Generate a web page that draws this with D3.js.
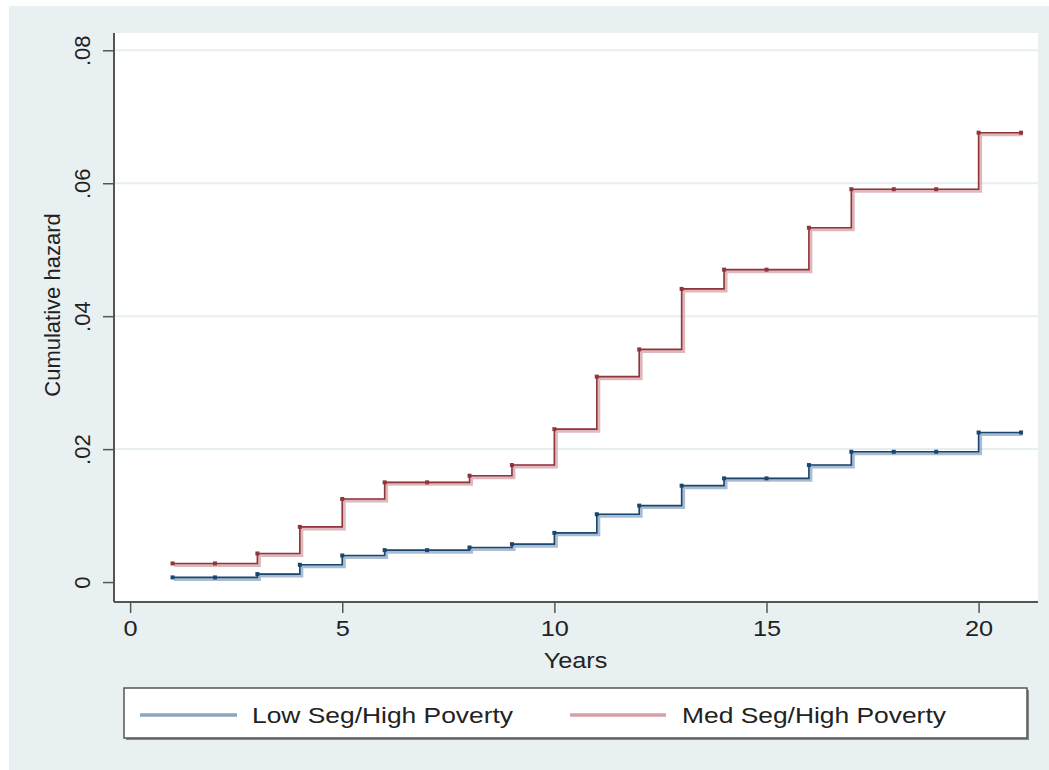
<!DOCTYPE html>
<html>
<head>
<meta charset="utf-8">
<script src="https://cdn.jsdelivr.net/npm/d3@7"></script>
<style>
  body { margin: 0; background: #fff; }
  svg { display: block; font-family: "Liberation Sans", Arial, sans-serif; }
</style>
</head>
<body>
<svg id="chart" width="1049" height="770"></svg>
<script>
// years at which the hazard steps
var years = [1, 2, 3, 4, 5, 6, 7, 8, 9, 10, 11, 12, 13, 14, 15, 16, 17, 18, 19, 20, 21];
// Low Seg/High Poverty cumulative hazard
var lowSeg = [0.0007, 0.0007, 0.0012, 0.0026, 0.0040, 0.0048, 0.0048, 0.0052, 0.0057, 0.0074, 0.0102,
              0.0115, 0.0145, 0.0156, 0.0156, 0.0176, 0.0196, 0.0196, 0.0196, 0.0225, 0.0225];
// Med Seg/High Poverty cumulative hazard
var medSeg = [0.0028, 0.0028, 0.0043, 0.0083, 0.0125, 0.0150, 0.0150, 0.0160, 0.0176, 0.0230, 0.0309,
              0.0350, 0.0441, 0.0470, 0.0470, 0.0533, 0.0591, 0.0591, 0.0591, 0.0676, 0.0676];
var xTicks = [0, 5, 10, 15, 20];
var yTicks = [0, 0.02, 0.04, 0.06, 0.08];
var yTickLabels = ["0", ".02", ".04", ".06", ".08"];
var seriesNames = ["Low Seg/High Poverty", "Med Seg/High Poverty"];

var svg = d3.select("#chart");
var plot = {left: 114, right: 1038, top: 33, bottom: 602};

// graph region background
svg.append("rect")
    .attr("x", 9).attr("y", 6)
    .attr("width", 1040).attr("height", 764)
    .attr("fill", "#e9f0f2");
svg.append("rect")
    .attr("x", plot.left).attr("y", plot.top)
    .attr("width", plot.right - plot.left).attr("height", plot.bottom - plot.top)
    .attr("fill", "#ffffff");

var x = d3.scaleLinear().domain([-0.38, 21.4]).range([plot.left, plot.right]);
var y = d3.scaleLinear().domain([-0.003, 0.0826]).range([plot.bottom, plot.top]);

// gridlines
svg.append("g").selectAll("line")
    .data(yTicks.slice(1))
    .enter().append("line")
    .attr("x1", plot.left).attr("x2", plot.right)
    .attr("y1", function (d) { return y(d); })
    .attr("y2", function (d) { return y(d); })
    .attr("stroke", "#e6eff1")
    .attr("stroke-width", 2);

// axes
var xAxis = d3.axisBottom(x).tickValues(xTicks).tickSize(11).tickPadding(6).tickFormat(d3.format("d"));
var gx = svg.append("g")
    .attr("transform", "translate(0," + plot.bottom + ")")
    .call(xAxis);
gx.select(".domain").attr("stroke", "#555").attr("stroke-width", 2)
    .attr("d", "M" + plot.left + ",0H" + plot.right);
gx.selectAll(".tick line").attr("stroke", "#555").attr("stroke-width", 1.5);
gx.selectAll(".tick text")
    .attr("font-size", 22).attr("fill", "#222")
    .attr("font-family", "Liberation Sans, Arial, sans-serif")
    .attr("dy", "0.78em")
    .attr("x", 0)
    .attr("text-anchor", "middle")
    .attr("transform", "scale(1.15,1)");

var yAxis = d3.axisLeft(y).tickValues(yTicks).tickSize(11).tickFormat(function (d, i) { return yTickLabels[i]; });
var gy = svg.append("g")
    .attr("transform", "translate(" + plot.left + ",0)")
    .call(yAxis);
gy.select(".domain").attr("stroke", "#555").attr("stroke-width", 2)
    .attr("d", "M0," + plot.top + "V" + plot.bottom);
gy.selectAll(".tick line").attr("stroke", "#555").attr("stroke-width", 1.5);
gy.selectAll(".tick text")
    .attr("font-size", 22).attr("fill", "#222")
    .attr("font-family", "Liberation Sans, Arial, sans-serif")
    .attr("x", null).attr("dy", null)
    .attr("text-anchor", "middle")
    .attr("transform", "translate(-24,0) rotate(-90)");

// axis titles
svg.append("text")
    .attr("transform", "translate(60,305) rotate(-90)")
    .attr("text-anchor", "middle")
    .attr("font-size", 22).attr("fill", "#222")
    .text("Cumulative hazard");
svg.append("text")
    .attr("transform", "translate(" + x(10.5) + ",668) scale(1.15,1)")
    .attr("text-anchor", "middle")
    .attr("font-size", 22).attr("fill", "#222")
    .text("Years");

// step lines
var series = [
    {name: seriesNames[0], values: lowSeg, dark: "#1a476f", light: "#8ca6c1"},
    {name: seriesNames[1], values: medSeg, dark: "#90353b", light: "#d3a1a6"}
];
var line = d3.line()
    .x(function (d) { return x(d[0]); })
    .y(function (d) { return y(d[1]); })
    .curve(d3.curveStepAfter);

series.forEach(function (s) {
    var pts = years.map(function (yr, i) { return [yr, s.values[i]]; });
    var g = svg.append("g");
    g.append("path")
        .attr("d", line(pts))
        .attr("transform", "translate(1.5,1.5)")
        .attr("fill", "none")
        .attr("stroke", s.light)
        .attr("stroke-width", 4)
        .attr("opacity", 0.75);
    g.append("path")
        .attr("d", line(pts))
        .attr("fill", "none")
        .attr("stroke", s.dark)
        .attr("stroke-width", 1.6);
    g.selectAll("rect")
        .data(pts)
        .enter().append("rect")
        .attr("x", function (d) { return x(d[0]) - 2; })
        .attr("y", function (d) { return y(d[1]) - 2; })
        .attr("width", 4).attr("height", 4)
        .attr("fill", s.dark);
});

// legend
var legend = svg.append("g");
legend.append("rect")
    .attr("x", 126).attr("y", 690)
    .attr("width", 903).attr("height", 50)
    .attr("fill", "#888");
legend.append("rect")
    .attr("x", 124).attr("y", 688)
    .attr("width", 903).attr("height", 50)
    .attr("fill", "#fff")
    .attr("stroke", "#555").attr("stroke-width", 1.5);
var legendItems = [
    {lx1: 140, lx2: 237, tx: 252, color: series[0].light, name: seriesNames[0]},
    {lx1: 570, lx2: 666, tx: 682, color: series[1].light, name: seriesNames[1]}
];
legendItems.forEach(function (it) {
    legend.append("line")
        .attr("x1", it.lx1).attr("x2", it.lx2)
        .attr("y1", 715).attr("y2", 715)
        .attr("stroke", it.color).attr("stroke-width", 3.5);
    legend.append("text")
        .attr("transform", "translate(" + it.tx + ",723) scale(1.2,1)")
        .attr("font-size", 22).attr("fill", "#222")
        .text(it.name);
});
</script>
</body>
</html>
